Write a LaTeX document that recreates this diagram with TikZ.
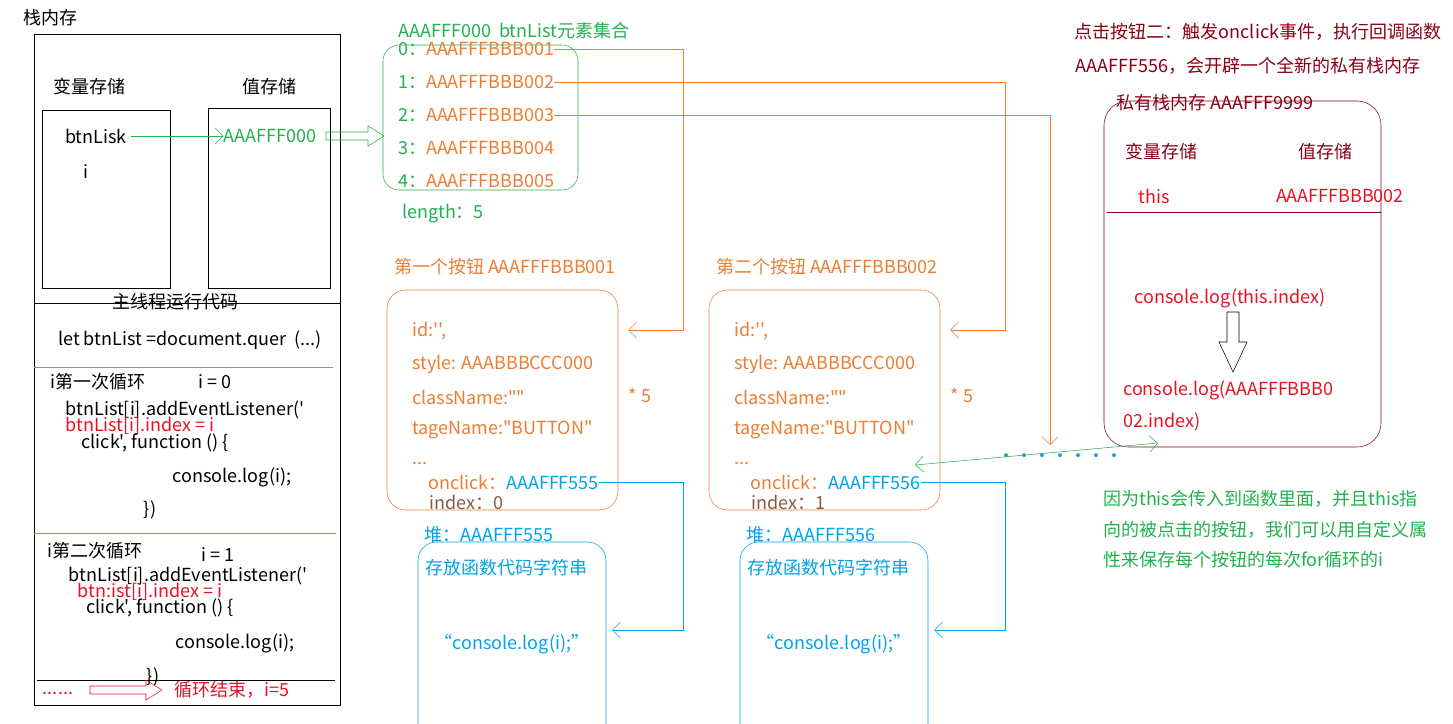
\documentclass[tikz,border=0pt]{standalone}
\usepackage{fontspec}
\setmainfont{Noto Sans CJK SC}[Ligatures=TeXOff]
\usetikzlibrary{arrows.meta,positioning}
\definecolor{org}{RGB}{237,125,49}
\definecolor{grn}{RGB}{34,177,76}
\definecolor{blu}{RGB}{0,162,232}
\definecolor{rd}{RGB}{232,17,35}
\definecolor{drd}{RGB}{136,0,21}
\definecolor{brn}{RGB}{190,130,100}
% hollow arrow: colour, x start, x end, y
\newcommand{\hollowarrow}[4]{
  \draw[#1] (#2,{#4-4}) -- ({#3-16},{#4-4}) -- ({#3-16},{#4-10}) -- (#3,#4) -- ({#3-16},{#4+10}) -- ({#3-16},{#4+4}) -- (#2,{#4+4}) -- cycle;
}
\tikzset{
  txt/.style={inner sep=0pt,font=\fontsize{13.5}{15}\selectfont},
  link/.style={-{Straight Barb[length=6pt,width=12pt]}}
}
\begin{document}
\begin{tikzpicture}[x=0.75pt,y=-0.75pt]
\useasboundingbox (0,0) rectangle (1453,724);

% stack
\node[txt] (stack) at (50,18) {栈内存};
\draw (34,34) rectangle (340,705);
\draw (42,110) rectangle (170,288);
\draw (208,108) rectangle (330,288);
\node[txt] at (89,87) {变量存储};
\node[txt] at (269,87) {值存储};
\node[txt] (lisk) at (96,136) {btnLisk};
\node[txt] at (86,172) {i};
\node[txt,text=grn] (val) at (270,136) {AAAFFF000};
\draw[grn,link] (lisk.east) ++(4,0) coordinate (lk) (lk) -- (val.west);
\hollowarrow{grn}{326}{384}{136}

\draw (34,303) -- (340,303);
\node[txt] at (175,302) {主线程运行代码};
\node[txt] at (190,340) {let btnList =document.quer\ \ (...)};
\draw[brn] (34,367) -- (333,367);
\node[txt] at (98,382) {i第一次循环};
\node[txt] at (215,382) {i = 0};
\node[txt] at (185,410) {btnList[i].addEventListener('};
\node[txt,text=rd] at (140,426) {btnList[i].index = i};
\node[txt] at (155,443) {click', function () \{};
\node[txt] at (232,477) {console.log(i);};
\node[txt] at (150,510) {\})};
\draw[brn] (34,533) -- (336,533);
\node[txt] at (95,551) {i第二次循环};
\node[txt] at (218,555) {i = 1};
\node[txt] at (188,576) {btnList[i].addEventListener('};
\node[txt,text=rd] at (150,592) {btn:ist[i].index = i};
\node[txt] at (160,608) {click', function () \{};
\node[txt] at (235,643) {console.log(i);};
\node[txt] at (153,677) {\})};
\draw (37,680) -- (335,680);
\node[txt,text=rd] at (58,693) {......};
\hollowarrow{rd}{90}{162}{690}
\node[txt,text=rd] at (232,690) {循环结束，i=5};

% element collection
\node[txt,text=grn] at (514,31) {AAAFFF000\ \ btnList元素集合};
\draw[grn,rounded corners=12pt] (383,45) rectangle (578,190);
\foreach \k/\y in {0/49,1/82,2/115,3/148,4/181}
  \node[txt,anchor=west] (it\k) at (398,\y) {\textcolor{grn}{\k：}\textcolor{org}{AAAFFFBBB00\the\numexpr\k+1\relax}};
\node[txt,text=grn] at (443,214) {length：5};

% buttons
\foreach \b/\x/\t/\h/\n in {1/387/第一个按钮 AAAFFFBBB001/555/0, 2/709/第二个按钮 AAAFFFBBB002/556/1} {
  \begin{scope}[shift={(\x,0)}]
    \node[txt,text=org] at (118,267) {\t};
    \draw[org,rounded corners=14pt] (0,290) rectangle (231,510);
    \coordinate (in\b) at (241,330);
    \node[txt,text=org,anchor=west] at (25,331) {id:'',};
    \node[txt,text=org,anchor=west] at (25,364) {style: AAABBBCCC000};
    \node[txt,text=org,anchor=west] at (25,397) {className:""};
    \node[txt,text=org,anchor=west] at (25,430) {tageName:"BUTTON"};
    \node[txt,text=org,anchor=west] at (25,463) {...};
    \node[txt,anchor=west] (on\b) at (41,482) {\textcolor{org}{onclick：}\textcolor{blu}{AAAFFF\h}};
    \node[txt,anchor=west] at (42,502) {\textcolor{brn!70!black}{index：\n}};
    \node[txt,text=org] at (253,395) {* 5};
    % heap
    \node[txt,text=blu] at (102,535) {堆：AAAFFF\h};
    \draw[blu,rounded corners=14pt] (31,740) -- (31,542) -- (219,542) -- (219,740);
    \node[txt,text=blu] at (119,568) {存放函数代码字符串};
    \node[txt,text=blu] at (125,644) {“console.log(i);”};
    \coordinate (hp\b) at (225,630);
  \end{scope}
}
\draw[org,link] (it0.east) -- (683,49) -- (683,330) -- (in1);
\draw[org,link] (it1.east) -- (1005,82) -- (1005,330) -- (in2);
\draw[org,link] (it2.east) -- (1050,115) -- (1050,445);
\node[txt,text=blu] at (1060,458) {·······};
\draw[blu,link] (on1.east) -- (683,482) -- (683,630) -- (hp1);
\draw[blu,link] (on2.east) -- (1005,482) -- (1005,630) -- (hp2);

% private stack
\node[txt,text=drd] at (1258,32) {点击按钮二：触发onclick事件，执行回调函数};
\node[txt,text=drd] at (1248,66) {AAAFFF556，会开辟一个全新的私有栈内存};
\draw[drd,rounded corners=18pt] (1104,101) rectangle (1381,447);
\node[txt,text=drd] at (1215,103) {私有栈内存 AAAFFF9999};
\node[txt,text=drd] at (1161,152) {变量存储};
\node[txt,text=drd] at (1325,152) {值存储};
\node[txt,text=rd] at (1154,196) {this};
\node[txt,text=rd] at (1340,196) {AAAFFFBBB002};
\draw[drd] (1107,212) -- (1381,212);
\node[txt,text=rd] (log1) at (1230,298) {console.log(this.index)};
\node[txt,text=rd,anchor=west] (log2) at (1123,390) {console.log(AAAFFFBBB0};
\node[txt,text=rd,anchor=west] (log3) at (1123,422) {02.index)};
\draw (1227,312) -- (1239,312) -- (1239,342) -- (1247,342) -- (1233,372) -- (1219,342) -- (1227,342) -- cycle;
\coordinate (hit) at (1158,443);
\draw[grn,{Straight Barb[length=6pt,width=12pt]}-{Straight Barb[length=6pt,width=12pt]}] (on2.east |- 0,465) ++(-6,0) coordinate (cb) (cb) -- (hit);

\node[txt,text=grn,align=left,anchor=north west] at (1103,490) {因为this会传入到函数里面，并且this指\\[8pt]向的被点击的按钮，我们可以用自定义属\\[8pt]性来保存每个按钮的每次for循环的i};
\end{tikzpicture}
\end{document}
